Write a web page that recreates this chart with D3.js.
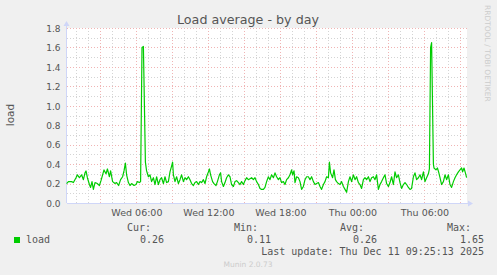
<!DOCTYPE html>
<html>
<head>
<meta charset="utf-8">
<script src="https://cdn.jsdelivr.net/npm/d3@7"></script>
<style>
  body { margin: 0; background: #f0f0f0; }
  svg { display: block; }
</style>
</head>
<body>
<div id="chart"></div>
<script>
// minutes after Wed 00:00 (Dec 10 2025) and load average
const minutes = [11, 20, 36, 45, 58, 65, 75, 86, 95, 103, 108, 115, 125, 131, 138, 145, 153, 165, 175, 183,
  191, 198, 208, 215, 225, 231, 241, 253, 261, 271, 281, 291, 298, 305, 311, 320, 328, 336, 348, 358,
  365, 375, 381, 388, 395, 405, 411, 420, 428, 436, 445, 453, 461, 470, 478, 486, 495, 503, 511, 520,
  528, 536, 541, 545, 553, 561, 570, 578, 586, 595, 603, 611, 620, 628, 636, 645, 653, 661, 670, 678,
  686, 695, 703, 711, 720, 725, 731, 741, 748, 758, 765, 775, 781, 786, 795, 803, 811, 820, 828, 836,
  845, 853, 861, 870, 878, 886, 895, 903, 911, 920, 928, 936, 945, 953, 961, 970, 978, 986, 995, 1003,
  1011, 1020, 1028, 1036, 1045, 1053, 1061, 1070, 1078, 1086, 1095, 1103, 1111, 1120, 1128, 1136, 1141, 1148, 1153, 1161,
  1170, 1178, 1186, 1195, 1203, 1211, 1220, 1228, 1236, 1245, 1253, 1261, 1270, 1278, 1286, 1295, 1303, 1311, 1320, 1325,
  1331, 1341, 1348, 1355, 1361, 1370, 1378, 1386, 1395, 1403, 1411, 1420, 1428, 1436, 1445, 1453, 1461, 1470, 1478, 1486,
  1495, 1503, 1511, 1520, 1528, 1536, 1545, 1553, 1561, 1570, 1578, 1586, 1595, 1603, 1611, 1620, 1628, 1636, 1645, 1653,
  1661, 1670, 1678, 1686, 1695, 1703, 1711, 1720, 1728, 1736, 1745, 1753, 1761, 1770, 1778, 1786, 1795, 1803, 1811, 1820,
  1825, 1831, 1836, 1845, 1848, 1858, 1865, 1871, 1878, 1886, 1895, 1903, 1911, 1920, 1928, 1936, 1945, 1953, 1961, 1970,
  1978, 1986, 1991, 1998, 2005, 2011];
const load = [0.20, 0.22, 0.22, 0.21, 0.26, 0.29, 0.26, 0.29, 0.24, 0.31, 0.33, 0.26, 0.19, 0.16, 0.22, 0.14, 0.21, 0.20, 0.18, 0.23,
  0.29, 0.34, 0.30, 0.35, 0.27, 0.33, 0.22, 0.20, 0.21, 0.18, 0.24, 0.27, 0.33, 0.41, 0.29, 0.21, 0.18, 0.20, 0.18, 0.19,
  0.22, 0.21, 0.22, 1.60, 1.61, 0.42, 0.33, 0.27, 0.29, 0.22, 0.26, 0.19, 0.27, 0.19, 0.24, 0.26, 0.20, 0.27, 0.21, 0.22,
  0.32, 0.38, 0.42, 0.29, 0.22, 0.27, 0.20, 0.24, 0.29, 0.22, 0.26, 0.24, 0.27, 0.24, 0.20, 0.18, 0.21, 0.22, 0.19, 0.22,
  0.21, 0.24, 0.20, 0.27, 0.32, 0.35, 0.29, 0.22, 0.20, 0.18, 0.22, 0.29, 0.31, 0.22, 0.17, 0.21, 0.26, 0.29, 0.27, 0.19,
  0.17, 0.22, 0.23, 0.21, 0.19, 0.22, 0.19, 0.23, 0.26, 0.24, 0.25, 0.26, 0.24, 0.26, 0.22, 0.19, 0.15, 0.14, 0.14, 0.16,
  0.22, 0.27, 0.24, 0.29, 0.26, 0.31, 0.27, 0.24, 0.26, 0.21, 0.22, 0.19, 0.24, 0.26, 0.29, 0.34, 0.29, 0.33, 0.21, 0.27,
  0.26, 0.22, 0.14, 0.17, 0.24, 0.27, 0.27, 0.24, 0.27, 0.22, 0.19, 0.20, 0.21, 0.17, 0.14, 0.19, 0.22, 0.27, 0.26, 0.42,
  0.31, 0.26, 0.34, 0.24, 0.22, 0.20, 0.19, 0.22, 0.17, 0.14, 0.11, 0.22, 0.27, 0.22, 0.29, 0.24, 0.27, 0.21, 0.19, 0.15,
  0.24, 0.26, 0.24, 0.27, 0.22, 0.26, 0.27, 0.24, 0.29, 0.14, 0.19, 0.22, 0.26, 0.29, 0.20, 0.17, 0.21, 0.27, 0.19, 0.32,
  0.26, 0.29, 0.21, 0.15, 0.19, 0.21, 0.19, 0.16, 0.14, 0.15, 0.27, 0.31, 0.24, 0.26, 0.29, 0.24, 0.32, 0.22, 0.26, 0.30,
  0.35, 1.60, 1.65, 0.40, 0.36, 0.34, 0.36, 0.32, 0.26, 0.19, 0.22, 0.29, 0.24, 0.29, 0.19, 0.16, 0.22, 0.26, 0.29, 0.32,
  0.34, 0.36, 0.32, 0.36, 0.31, 0.26];

const legendHeads = ['Cur:', 'Min:', 'Avg:', 'Max:'];
const legendValues = ['0.26', '0.11', '0.26', '1.65'];
const seriesName = 'load';
const lastUpdate = 'Last update: Thu Dec 11 09:25:13 2025';

const width = 497, height = 275;
const plot = { left: 67, right: 467, top: 28, bottom: 203 };
const axisColor = '#cfd6f8';
const fontColor = '#555';

const base = new Date(2025, 11, 10, 0, 0);
const toDate = m => new Date(base.getTime() + m * 60000);

const x = d3.scaleTime()
    .domain([toDate(13), toDate(2013)])
    .range([plot.left, plot.right]);

const y = d3.scaleLinear()
    .domain([0, 1.8])
    .range([plot.bottom, plot.top]);

const svg = d3.select('#chart').append('svg')
    .attr('width', width)
    .attr('height', height);

svg.append('rect')
    .attr('width', width).attr('height', height)
    .attr('fill', '#f0f0f0');

// canvas
svg.append('rect')
    .attr('x', plot.left).attr('y', plot.top)
    .attr('width', plot.right - plot.left)
    .attr('height', plot.bottom - plot.top)
    .attr('fill', '#ffffff');

// grid
const grid = svg.append('g').attr('class', 'grid');
const hours = d3.timeHour.every(1).range(x.domain()[0], x.domain()[1]);
grid.selectAll('.vgrid')
    .data(hours)
    .join('line')
    .attr('x1', d => Math.round(x(d)) + 0.5)
    .attr('x2', d => Math.round(x(d)) + 0.5)
    .attr('y1', plot.top)
    .attr('y2', plot.bottom)
    .attr('stroke', d => d.getHours() % 3 === 0 ? '#f0b4b4' : '#d4d4d4')
    .attr('stroke-dasharray', '1,2');

const yGridValues = y.ticks(18);
grid.selectAll('.hgrid')
    .data(yGridValues.filter(d => d > 0))
    .join('line')
    .attr('x1', plot.left)
    .attr('x2', plot.right)
    .attr('y1', d => Math.round(y(d)) + 0.5)
    .attr('y2', d => Math.round(y(d)) + 0.5)
    .attr('stroke', d => Math.round(d * 10) % 2 === 0 ? '#f0b4b4' : '#d4d4d4')
    .attr('stroke-dasharray', '1,2');

// axes lines with arrows
svg.append('line')
    .attr('x1', plot.left).attr('x2', 469)
    .attr('y1', plot.bottom + 0.5).attr('y2', plot.bottom + 0.5)
    .attr('stroke', axisColor);
svg.append('path')
    .attr('d', `M468,200.5L473,203.5L468,206.5Z`)
    .attr('fill', axisColor);
svg.append('line')
    .attr('x1', plot.left - 0.5).attr('x2', plot.left - 0.5)
    .attr('y1', plot.bottom).attr('y2', 24)
    .attr('stroke', axisColor);
svg.append('path')
    .attr('d', `M63.5,26L66.5,21L69.5,26Z`)
    .attr('fill', axisColor);

// data line
const points = minutes.map((m, i) => ({ t: toDate(m), v: load[i] }));
svg.append('path')
    .datum(points)
    .attr('fill', 'none')
    .attr('stroke', '#00cc00')
    .attr('stroke-width', 1.2)
    .attr('stroke-linejoin', 'round')
    .attr('d', d3.line().x(d => x(d.t)).y(d => y(d.v)));

// tick labels
const xAxis = svg.append('g')
    .attr('transform', `translate(0, ${plot.bottom})`)
    .call(d3.axisBottom(x)
        .ticks(d3.timeHour.every(6))
        .tickFormat(d3.timeFormat('%a %H:%M'))
        .tickSize(0));
xAxis.select('.domain').remove();
xAxis.selectAll('text')
    .attr('y', 12.5).attr('dy', 0)
    .attr('fill', fontColor)
    .style('font-family', 'DejaVu Sans')
    .style('font-size', '9.5px');

const yAxis = svg.append('g')
    .attr('transform', `translate(${plot.left}, 0)`)
    .call(d3.axisLeft(y)
        .ticks(9)
        .tickFormat(d3.format('.1f'))
        .tickSize(0));
yAxis.select('.domain').remove();
yAxis.selectAll('text')
    .attr('x', -6.5).attr('dy', '0.36em')
    .attr('fill', fontColor)
    .style('font-family', 'DejaVu Sans')
    .style('font-size', '9px');

// title & labels
svg.append('text')
    .attr('x', 248).attr('y', 24)
    .attr('text-anchor', 'middle')
    .attr('fill', fontColor)
    .style('font-family', 'DejaVu Sans')
    .style('font-size', '12.7px')
    .text('Load average - by day');

svg.append('text')
    .attr('transform', `translate(14, 115) rotate(-90)`)
    .attr('text-anchor', 'middle')
    .attr('fill', fontColor)
    .style('font-family', 'DejaVu Sans')
    .style('font-size', '10.5px')
    .text('load');

svg.append('text')
    .attr('transform', `translate(485, 5) rotate(90)`)
    .attr('text-anchor', 'start')
    .attr('fill', '#cccccc')
    .style('font-family', 'DejaVu Sans')
    .style('font-size', '7.5px')
    .text('RRDTOOL / TOBI OETIKER');

// legend
const legend = svg.append('g')
    .style('font-family', 'DejaVu Sans Mono')
    .style('font-size', '10px')
    .attr('fill', fontColor);

legend.append('rect')
    .attr('x', 14).attr('y', 237)
    .attr('width', 6).attr('height', 6)
    .attr('fill', '#00cc00');
legend.append('text')
    .attr('x', 26).attr('y', 243)
    .text(seriesName);

const headEnds = [151, 258, 364, 471];
legend.selectAll('.head')
    .data(legendHeads)
    .join('text')
    .attr('class', 'head')
    .attr('x', (d, i) => headEnds[i])
    .attr('y', 231)
    .attr('text-anchor', 'end')
    .text(d => d);
legend.selectAll('.val')
    .data(legendValues)
    .join('text')
    .attr('class', 'val')
    .attr('x', (d, i) => headEnds[i] + 13)
    .attr('y', 243)
    .attr('text-anchor', 'end')
    .text(d => d);
legend.append('text')
    .attr('x', 484).attr('y', 255)
    .attr('text-anchor', 'end')
    .text(lastUpdate);

svg.append('text')
    .attr('x', 248).attr('y', 267)
    .attr('text-anchor', 'middle')
    .attr('fill', '#cccccc')
    .style('font-family', 'DejaVu Sans')
    .style('font-size', '7.5px')
    .text('Munin 2.0.73');
</script>
</body>
</html>
